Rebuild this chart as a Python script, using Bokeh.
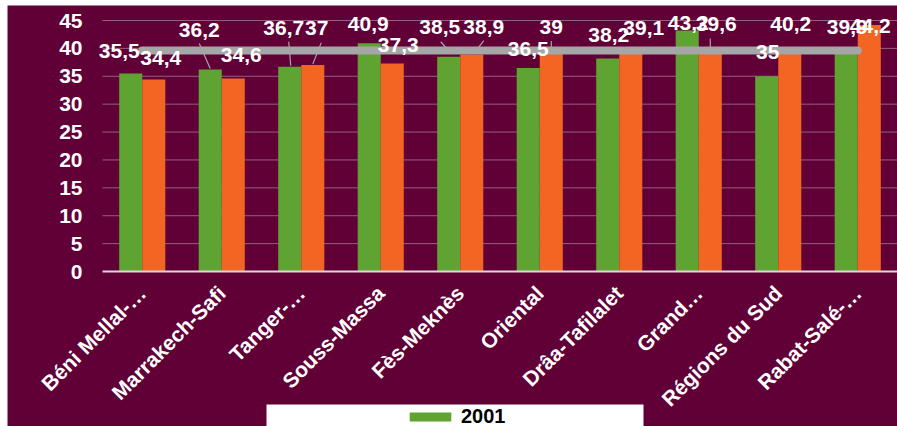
import numpy as np
from bokeh.plotting import figure
from bokeh.models import (Range1d, FixedTicker, ColumnDataSource, Legend, LegendItem,
                          BoxAnnotation, LinearAxis)
from bokeh.core.properties import value
from bokeh.embed import file_html
from bokeh.resources import INLINE

# ---------------- data ----------------
regions = ["Béni Mellal-…", "Marrakech-Safi", "Tanger-…", "Souss-Massa", "Fès-Meknès",
           "Oriental", "Drâa-Tafilalet", "Grand…", "Régions du Sud", "Rabat-Salé-…"]
s2001 = [35.5, 36.2, 36.7, 40.9, 38.5, 36.5, 38.2, 43.2, 35.0, 39.9]
s2014 = [34.4, 34.6, 37.0, 37.3, 38.9, 39.0, 39.1, 39.6, 40.2, 44.2]
national = [39.6, 39.6, 39.6, 39.6, 39.6, 39.6, 39.6, 39.6, 39.6, 39.6]
y_ticks = [0, 5, 10, 15, 20, 25, 30, 35, 40, 45]
legend_label = "2001"

# ---------------- label placement (screen px, styling only) ----------------
off_2001 = [(-11.5, -22), (-11, -40), (-6, -39), (-1, -19), (-9, -30),
            (0, -19), (1, -23), (1, -8), (1, -24), (1, -22)]
off_2014 = [(7, -22), (8, -24), (4, -37), (6, -18), (12, -28),
            (0, -27), (13, -25), (6, -27), (1, -23), (1, 1)]
# leader lines: (series, index, x0, y0, x1, y1) px relative to bar top centre
leaders = [(0, 1, -11, -26, 0, -1), (0, 2, -1, -25, 1, -1), (1, 2, 8.5, -22.5, 0, -1),
           (0, 4, -8, -15, 0, -6), (1, 4, 12, -14, 2, -1), (1, 5, 0, -13, 0, -3),
           (1, 7, 0, -12, 0, -1)]

MAROON = "#600036"
GREEN = "#5fa332"
ORANGE = "#f26522"
GREY = "#a6a6a6"
FONT = "Liberation Sans"

W, H = 890, 421
LEFT_PX, TOP_PX = 95, 15     # plot-area offset inside the canvas
FRAME_PLOT_H = 251           # pixels for the 0..45 part
n = len(regions)
px_x = (W - LEFT_PX) / n
px_y = FRAME_PLOT_H / 45.0
y_start = -(H - TOP_PX - FRAME_PLOT_H) / px_y
y_end = 45 + TOP_PX / px_y
x_start = -LEFT_PX / px_x

p = figure(width=W, height=H, output_backend="svg", toolbar_location=None,
           x_range=Range1d(x_start, n), y_range=Range1d(y_start, y_end),
           x_axis_location=None, y_axis_location=None,
           min_border=0,
           background_fill_color=MAROON, border_fill_color=MAROON, outline_line_color=None)
p.margin = (5, 0, 0, 7)
p.grid.visible = False

# horizontal gridlines
gy = [t for t in y_ticks if t > 0]
p.segment(x0=[0] * len(gy), y0=gy, x1=[n] * len(gy), y1=gy, line_color="#94607e", line_width=1)

centers = np.arange(n) + 0.5
bw = 0.29
xg = centers - bw / 2
xo = centers + bw / 2

def fmt(v):
    return ("%g" % v).replace(".", ",")

src_g = ColumnDataSource(dict(x=xg, top=s2001, lab=[fmt(v) for v in s2001],
                              dx=[o[0] for o in off_2001], dy=[o[1] for o in off_2001]))
src_o = ColumnDataSource(dict(x=xo, top=s2014, lab=[fmt(v) for v in s2014],
                              dx=[o[0] for o in off_2014], dy=[o[1] for o in off_2014]))

g = p.vbar(x="x", top="top", width=bw, bottom=0, source=src_g, fill_color=GREEN, line_color=None)
o = p.vbar(x="x", top="top", width=bw, bottom=0, source=src_o, fill_color=ORANGE, line_color=None)

p.line(centers, national, line_width=8, line_color=GREY, line_cap="round")

# leader lines
x0s, y0s, x1s, y1s = [], [], [], []
for s, i, ax, ay, bx, by in leaders:
    bxc = (xg if s == 0 else xo)[i]
    top = (s2001 if s == 0 else s2014)[i]
    x0s.append(bxc + ax / px_x); y0s.append(top - ay / px_y)
    x1s.append(bxc + bx / px_x); y1s.append(top - by / px_y)
p.segment(x0s, y0s, x1s, y1s, line_color=GREY, line_width=1.2)

for src in (src_g, src_o):
    p.text(x="x", y="top", text="lab", x_offset="dx", y_offset="dy", source=src,
           text_color="white", text_font=value(FONT), text_font_style="bold",
           text_font_size="21px", text_align="center", text_baseline="middle")

# x axis fixed at y = 0
xaxis = LinearAxis(fixed_location=0, bounds=(0, n))
xaxis.ticker = FixedTicker(ticks=list(centers))
xaxis.major_label_overrides = {float(c): r for c, r in zip(centers, regions)}
xaxis.major_label_orientation = np.pi / 4
xaxis.major_tick_line_color = None
xaxis.major_tick_out = 0
xaxis.minor_tick_line_color = None
xaxis.axis_line_color = "#d9d9d9"
xaxis.axis_line_width = 2
xaxis.major_label_text_color = "white"
xaxis.major_label_text_font = FONT
xaxis.major_label_text_font_style = "bold"
xaxis.major_label_text_font_size = "21px"
xaxis.major_label_standoff = 18
p.add_layout(xaxis, "below")

# y axis fixed at x = 0
yaxis = LinearAxis(fixed_location=0, bounds=(0, 45))
yaxis.ticker = FixedTicker(ticks=y_ticks)
yaxis.axis_line_color = None
yaxis.major_tick_line_color = None
yaxis.major_tick_out = 0
yaxis.minor_tick_line_color = None
yaxis.major_label_text_color = "white"
yaxis.major_label_text_font = FONT
yaxis.major_label_text_font_style = "bold"
yaxis.major_label_text_font_size = "21px"
yaxis.major_label_standoff = 20
p.add_layout(yaxis, "left")

# legend (white box + entry)
box = BoxAnnotation(left=(266 - 102) / px_x, right=(643 - 102) / px_x,
                    top=-(404 - 271) / px_y, bottom=y_start,
                    fill_color="white", fill_alpha=1, line_color=None)
p.add_layout(box)
legend = Legend(items=[LegendItem(label=legend_label, renderers=[g])], location=(397, -2),
                background_fill_alpha=0, border_line_color=None, padding=2, margin=0,
                glyph_width=52, glyph_height=11, label_standoff=5,
                label_text_font=FONT, label_text_font_style="bold",
                label_text_font_size="20px", label_text_color="black")
p.add_layout(legend, "center")

open("out.html", "w").write(file_html(p, INLINE))
